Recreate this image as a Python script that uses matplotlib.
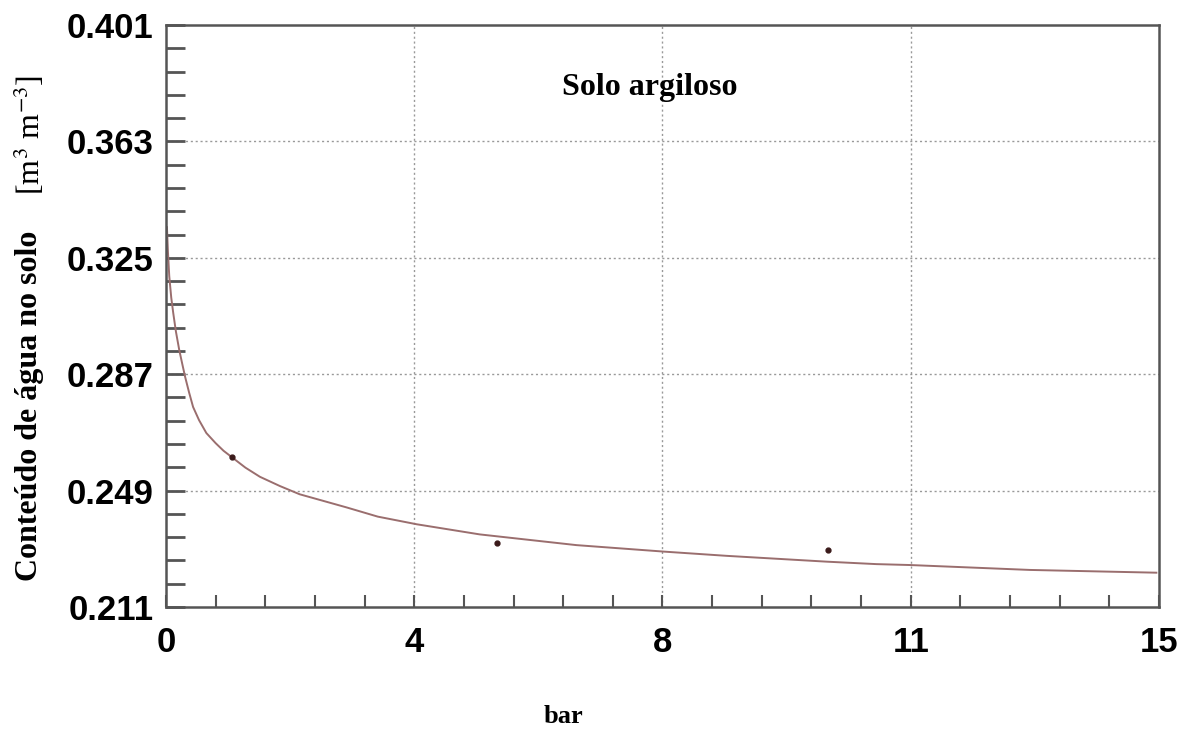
import numpy as np
import matplotlib
matplotlib.use('Agg')
from matplotlib import pyplot as plt
from matplotlib.ticker import AutoMinorLocator

# curva ajustada
pressao = [0.015, 0.03, 0.05, 0.08, 0.11, 0.15, 0.20, 0.25, 0.29, 0.35, 0.41, 0.50,
           0.61, 0.75, 0.87, 0.99, 1.20, 1.42, 1.72, 2.02, 2.40, 2.73, 3.20, 3.79,
           4.74, 6.20, 7.51, 8.47, 9.98, 10.73, 11.24, 13.05, 14.96]
umidade = [0.335, 0.327, 0.319, 0.312, 0.307, 0.301, 0.295, 0.290, 0.2861, 0.2810,
           0.2763, 0.2720, 0.2678, 0.2645, 0.2620, 0.2600, 0.2565, 0.2535, 0.2505,
           0.2478, 0.2455, 0.2435, 0.2405, 0.2380, 0.2347, 0.2312, 0.2291, 0.2277,
           0.2258, 0.2250, 0.2247, 0.2231, 0.2222]
# pontos medidos
pressao_obs = [1.0, 5.0, 10.0]
umidade_obs = [0.2600, 0.2318, 0.2296]

xticks = [0, 3.75, 7.5, 11.25, 15]
xtick_labels = ['0', '4', '8', '11', '15']
yticks = [0.211, 0.249, 0.287, 0.325, 0.363, 0.401]
ytick_labels = ['0.211', '0.249', '0.287', '0.325', '0.363', '0.401']

plt.rcParams['mathtext.fontset'] = 'stix'
fig = plt.figure(figsize=(11.93, 7.33), dpi=100)
ax = fig.add_axes([0.1391, 0.1719, 0.8324, 0.7940])

ax.plot(pressao, umidade, color='#9a6e6e', lw=1.4)
ax.plot(pressao_obs, umidade_obs, 'o', color='#3a1a1a', ms=3.5)

ax.set_xlim(0, 15)
ax.set_ylim(0.211, 0.401)
ax.set_xticks(xticks)
ax.set_xticklabels(xtick_labels)
ax.set_yticks(yticks)
ax.set_yticklabels(ytick_labels)
ax.xaxis.set_minor_locator(AutoMinorLocator(5))
ax.yaxis.set_minor_locator(AutoMinorLocator(5))

for lab in ax.get_xticklabels() + ax.get_yticklabels():
    lab.set_fontfamily('Liberation Sans')
    lab.set_fontweight('bold')
    lab.set_fontsize(25)

ax.tick_params(axis='x', which='both', direction='in', length=9, width=1.5,
               color='#555555', pad=14, top=False)
ax.tick_params(axis='y', which='both', direction='in', length=14, width=2,
               color='#555555', pad=9, right=False)
for s in ax.spines.values():
    s.set_color('#555555')
    s.set_linewidth(1.8)

# grade pontilhada so nas marcas internas
for xv in xticks[1:-1]:
    ax.axvline(xv, color='#999999', ls=(0, (1.5, 2)), lw=1.0, zorder=0)
for yv in yticks[1:-1]:
    ax.axhline(yv, color='#999999', ls=(0, (1.5, 2)), lw=1.0, zorder=0)

ax.text(0.487, 0.892, 'Solo argiloso', transform=ax.transAxes, ha='center', va='center',
        fontfamily='Liberation Serif', fontweight='bold', fontsize=23)

fig.text(0.472, 0.022, 'bar', ha='center', va='center',
         fontfamily='Liberation Serif', fontweight='bold', fontsize=19)
fig.text(0.025, 0.446, 'Conteúdo de água no solo', rotation=90, ha='center', va='center',
         fontfamily='Liberation Serif', fontweight='bold', fontsize=23)
fig.text(0.025, 0.816, r'[m$^3$ m$^{-3}$]', rotation=90, ha='center', va='center',
         fontfamily='Liberation Serif', fontsize=23)

plt.savefig('out.png', dpi=100)
